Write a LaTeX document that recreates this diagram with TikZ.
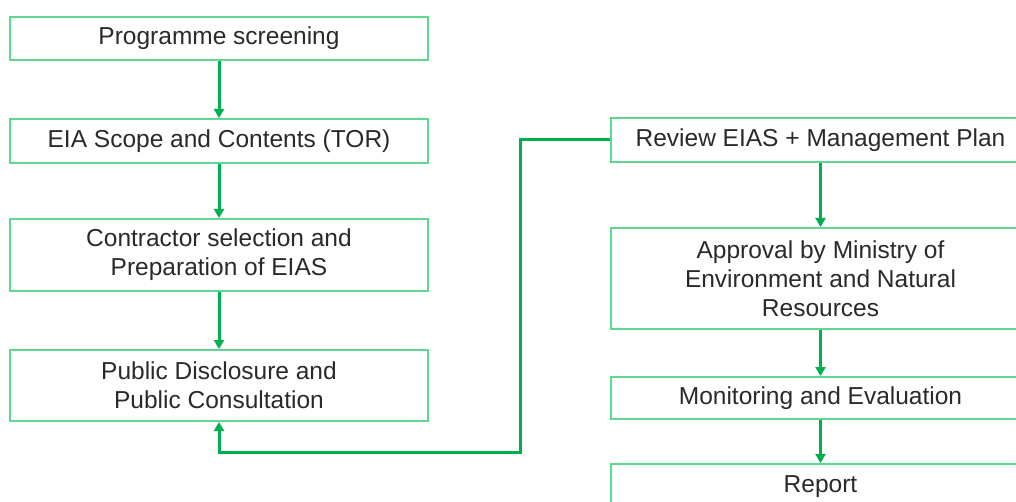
\documentclass[tikz,border=0pt]{standalone}
\usepackage{fontspec}
\setmainfont{Liberation Sans}
\usetikzlibrary{arrows.meta}
\definecolor{boxgreen}{HTML}{5DD891}
\definecolor{arrgreen}{HTML}{00B050}
\definecolor{txt}{HTML}{2A2A2A}
\tikzset{
  box/.style={draw=boxgreen, line width=2pt, fill=white, rectangle, align=center,
    text=txt, font=\fontsize{24.5}{29}\selectfont, inner sep=0pt},
  lbox/.style={box, minimum width=418pt},
  rbox/.style={box, minimum width=419pt},
  conn/.style={draw=arrgreen, line width=3pt, -{Triangle[width=10pt,length=9pt]}},
}
\begin{document}
\begin{tikzpicture}[x=1pt,y=-1pt]
\clip (0,0) rectangle (1016,502);
\fill[white] (0,0) rectangle (1016,502);
% left column
\node[lbox, minimum height=43pt] (b1) at (219,38.5) {Programme screening};
\node[lbox, minimum height=44pt] (b2) at (219,141) {EIA Scope and Contents (TOR)};
\node[lbox, minimum height=72pt] (b3) at (219,255) {Contractor selection and\\Preparation of EIAS};
\node[lbox, minimum height=71pt] (b4) at (219,385.5) {Public Disclosure and\\Public Consultation};
% right column
\node[rbox, minimum height=44pt] (r1) at (820.5,140) {Review EIAS + Management Plan};
\node[rbox, minimum height=101pt] (r2) at (820.5,278.5) {Approval by Ministry of\\Environment and Natural\\Resources};
\node[rbox, minimum height=42pt] (r3) at (820.5,398) {Monitoring and Evaluation};
\node[rbox, minimum height=46pt] (r4) at (820.5,487) {Report};
% connectors
\draw[conn] (b1) -- (b2);
\draw[conn] (b2) -- (b3);
\draw[conn] (b3) -- (b4);
\draw[conn] (r1) -- (r2);
\draw[conn] (r2) -- (r3);
\draw[conn] (r3) -- (r4);
\coordinate (fb) at (520,452);
\draw[conn] (r1.west) -| (fb) -| (b4.south);
\end{tikzpicture}
\end{document}
